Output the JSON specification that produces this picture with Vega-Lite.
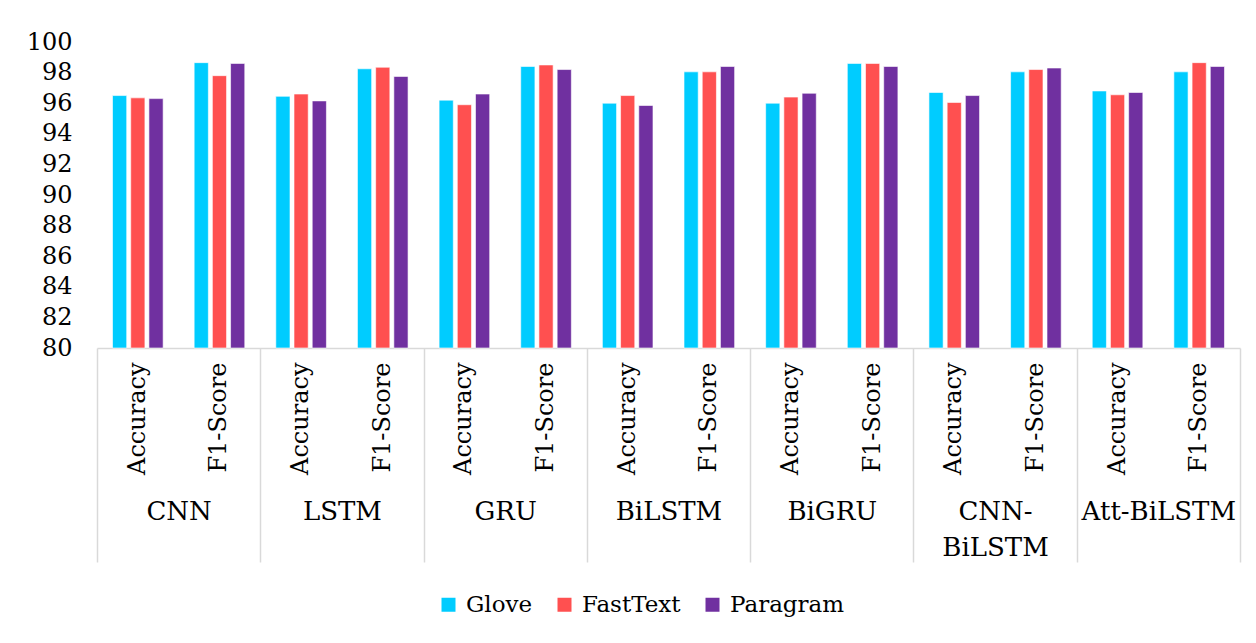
{
  "$schema": "https://vega.github.io/schema/vega-lite/v6.json",
  "autosize": "none",
  "width": 1143,
  "height": 306,
  "padding": {"left": 97, "top": 42, "right": 16, "bottom": 295},
  "background": "white",
  "config": {
    "view": {"stroke": null},
    "font": "DejaVu Serif",
    "axis": {"labelFont": "DejaVu Serif", "labelColor": "#000000", "labelFontSize": 24, "grid": false},
    "legend": {"labelFont": "DejaVu Serif", "labelFontSize": 23, "labelColor": "#000000"}
  },
  "data": {
    "values": [
      {"model": "CNN", "metric": "Accuracy", "embedding": "Glove", "value": 96.5},
      {"model": "CNN", "metric": "Accuracy", "embedding": "FastText", "value": 96.35},
      {"model": "CNN", "metric": "Accuracy", "embedding": "Paragram", "value": 96.3},
      {"model": "CNN", "metric": "F1-Score", "embedding": "Glove", "value": 98.65},
      {"model": "CNN", "metric": "F1-Score", "embedding": "FastText", "value": 97.8},
      {"model": "CNN", "metric": "F1-Score", "embedding": "Paragram", "value": 98.6},
      {"model": "LSTM", "metric": "Accuracy", "embedding": "Glove", "value": 96.45},
      {"model": "LSTM", "metric": "Accuracy", "embedding": "FastText", "value": 96.6},
      {"model": "LSTM", "metric": "Accuracy", "embedding": "Paragram", "value": 96.15},
      {"model": "LSTM", "metric": "F1-Score", "embedding": "Glove", "value": 98.25},
      {"model": "LSTM", "metric": "F1-Score", "embedding": "FastText", "value": 98.35},
      {"model": "LSTM", "metric": "F1-Score", "embedding": "Paragram", "value": 97.75},
      {"model": "GRU", "metric": "Accuracy", "embedding": "Glove", "value": 96.2},
      {"model": "GRU", "metric": "Accuracy", "embedding": "FastText", "value": 95.9},
      {"model": "GRU", "metric": "Accuracy", "embedding": "Paragram", "value": 96.6},
      {"model": "GRU", "metric": "F1-Score", "embedding": "Glove", "value": 98.4},
      {"model": "GRU", "metric": "F1-Score", "embedding": "FastText", "value": 98.5},
      {"model": "GRU", "metric": "F1-Score", "embedding": "Paragram", "value": 98.2},
      {"model": "BiLSTM", "metric": "Accuracy", "embedding": "Glove", "value": 96.0},
      {"model": "BiLSTM", "metric": "Accuracy", "embedding": "FastText", "value": 96.5},
      {"model": "BiLSTM", "metric": "Accuracy", "embedding": "Paragram", "value": 95.85},
      {"model": "BiLSTM", "metric": "F1-Score", "embedding": "Glove", "value": 98.05},
      {"model": "BiLSTM", "metric": "F1-Score", "embedding": "FastText", "value": 98.05},
      {"model": "BiLSTM", "metric": "F1-Score", "embedding": "Paragram", "value": 98.4},
      {"model": "BiGRU", "metric": "Accuracy", "embedding": "Glove", "value": 96.0},
      {"model": "BiGRU", "metric": "Accuracy", "embedding": "FastText", "value": 96.4},
      {"model": "BiGRU", "metric": "Accuracy", "embedding": "Paragram", "value": 96.65},
      {"model": "BiGRU", "metric": "F1-Score", "embedding": "Glove", "value": 98.6},
      {"model": "BiGRU", "metric": "F1-Score", "embedding": "FastText", "value": 98.6},
      {"model": "BiGRU", "metric": "F1-Score", "embedding": "Paragram", "value": 98.4},
      {"model": "CNN-BiLSTM", "metric": "Accuracy", "embedding": "Glove", "value": 96.7},
      {"model": "CNN-BiLSTM", "metric": "Accuracy", "embedding": "FastText", "value": 96.05},
      {"model": "CNN-BiLSTM", "metric": "Accuracy", "embedding": "Paragram", "value": 96.5},
      {"model": "CNN-BiLSTM", "metric": "F1-Score", "embedding": "Glove", "value": 98.05},
      {"model": "CNN-BiLSTM", "metric": "F1-Score", "embedding": "FastText", "value": 98.2},
      {"model": "CNN-BiLSTM", "metric": "F1-Score", "embedding": "Paragram", "value": 98.3},
      {"model": "Att-BiLSTM", "metric": "Accuracy", "embedding": "Glove", "value": 96.8},
      {"model": "Att-BiLSTM", "metric": "Accuracy", "embedding": "FastText", "value": 96.55},
      {"model": "Att-BiLSTM", "metric": "Accuracy", "embedding": "Paragram", "value": 96.7},
      {"model": "Att-BiLSTM", "metric": "F1-Score", "embedding": "Glove", "value": 98.05},
      {"model": "Att-BiLSTM", "metric": "F1-Score", "embedding": "FastText", "value": 98.65},
      {"model": "Att-BiLSTM", "metric": "F1-Score", "embedding": "Paragram", "value": 98.4}
    ]
  },
  "transform": [{"calculate": "datum.model + '|' + datum.metric", "as": "key"}],
  "layer": [
    {
      "mark": {"type": "bar", "stroke": "#ffffff", "strokeOpacity": 0.6, "strokeWidth": 1},
      "encoding": {
        "x": {
          "field": "key", "type": "nominal", "sort": null,
          "scale": {"paddingInner": 0.38, "paddingOuter": 0.19},
          "axis": {
            "orient": "bottom", "title": null, "ticks": false,
            "domain": true, "domainColor": "#d9d9d9", "domainWidth": 1.5,
            "labelAngle": 270, "labelAlign": "right", "labelBaseline": "middle",
            "labelPadding": 14,
            "labelExpr": "split(datum.value, '|')[1]"
          }
        },
        "xOffset": {
          "field": "embedding", "type": "nominal", "sort": ["Glove", "FastText", "Paragram"],
          "scale": {"paddingInner": 0.22, "paddingOuter": 0}
        },
        "y": {
          "field": "value", "type": "quantitative",
          "scale": {"domain": [80, 100], "zero": false, "nice": false},
          "axis": {
            "title": null, "values": [80, 82, 84, 86, 88, 90, 92, 94, 96, 98, 100],
            "ticks": false, "domain": false, "labelPadding": 25
          }
        },
        "y2": {"datum": 80},
        "color": {
          "field": "embedding", "type": "nominal", "sort": ["Glove", "FastText", "Paragram"],
          "scale": {"domain": ["Glove", "FastText", "Paragram"], "range": ["#00ccff", "#ff5050", "#7030a0"]},
          "legend": {
            "title": null, "orient": "none", "direction": "horizontal",
            "legendX": 340, "legendY": 551,
            "symbolType": "square", "symbolSize": 196, "symbolStrokeWidth": 0,
            "labelOffset": 6, "columnPadding": 20
          }
        }
      }
    },
    {
      "mark": {"type": "rule", "strokeOpacity": 0},
      "encoding": {
        "x": {
          "field": "model", "type": "nominal", "sort": null,
          "scale": {"paddingInner": 0, "paddingOuter": 0},
          "axis": {
            "orient": "bottom", "title": null, "domain": false,
            "ticks": true, "tickBand": "extent", "tickSize": 214,
            "tickColor": "#d9d9d9", "tickWidth": 1.5,
            "labelFontSize": 26,
            "labelAngle": 0, "labelAlign": "center", "labelBaseline": "top",
            "labelPadding": -64, "labelLineHeight": 36,
            "labelExpr": "datum.value == 'CNN-BiLSTM' ? ['CNN-', 'BiLSTM'] : datum.value"
          }
        }
      }
    }
  ],
  "resolve": {"scale": {"x": "independent"}, "axis": {"x": "independent"}}
}
